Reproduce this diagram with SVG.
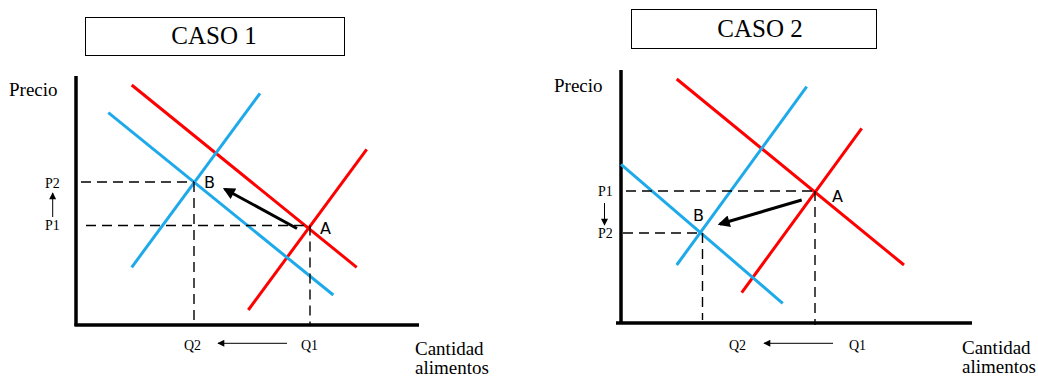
<svg xmlns="http://www.w3.org/2000/svg" width="1038" height="376" viewBox="0 0 1038 376">
<style>
.serif{font-family:"Liberation Serif","Times New Roman",serif;fill:#000}
.sans{font-family:"DejaVu Sans","Liberation Sans",sans-serif;fill:#000;font-size:16px}
.ax{stroke:#000;stroke-width:3.5;fill:none}
.red{stroke:#ff0000;stroke-width:3;fill:none}
.blue{stroke:#1eaaea;stroke-width:3;fill:none}
.dash{stroke:#000;stroke-width:1.4;stroke-dasharray:10,6;fill:none}
.thin{stroke:#000;stroke-width:1;fill:none}
.move{stroke:#000;stroke-width:3;fill:none}
.box{fill:#fff;stroke:#000;stroke-width:1}
</style>
<defs>
<marker id="bigh" viewBox="0 0 10 10" refX="8" refY="5" markerWidth="14" markerHeight="12" orient="auto" markerUnits="userSpaceOnUse"><path d="M0,0 L10,5 L0,10 z" fill="#000"/></marker>
<marker id="small" viewBox="0 0 10 10" refX="9" refY="5" markerWidth="8" markerHeight="7" orient="auto" markerUnits="userSpaceOnUse"><path d="M0,0 L10,5 L0,10 z" fill="#000"/></marker>
</defs>

<g id="caso1-title"><rect class="box" x="85.5" y="17.5" width="259" height="38"/><text class="serif" x="214" y="44" font-size="25" text-anchor="middle">CASO 1</text></g>
<g id="caso2-title"><rect class="box" x="631.5" y="9.5" width="245" height="39"/><text class="serif" x="760" y="37" font-size="25" text-anchor="middle">CASO 2</text></g>

<g id="caso1-axes">
<line class="ax" x1="76" y1="76" x2="76" y2="326"/>
<line class="ax" x1="74.5" y1="325" x2="419" y2="325"/>
<text class="serif" x="9" y="96" font-size="19">Precio</text>
<text class="serif" x="415" y="355" font-size="19">Cantidad</text>
<text class="serif" x="415" y="374" font-size="19">alimentos</text>
</g>
<g id="caso1-curves">
<line class="red" x1="131.7" y1="85" x2="356.7" y2="267.3"/>
<line class="red" x1="248.3" y1="310" x2="366.7" y2="149.3"/>
<line class="blue" x1="108.3" y1="112.7" x2="333.3" y2="295"/>
<line class="blue" x1="131.7" y1="267.3" x2="260" y2="93.3"/>
</g>
<g id="caso1-guides">
<line class="dash" x1="81" y1="182" x2="194" y2="182"/>
<line class="dash" x1="86" y1="225.5" x2="310" y2="225.5"/>
<line class="dash" x1="194" y1="182" x2="194" y2="325"/>
<line class="dash" x1="310" y1="225.5" x2="310" y2="325"/>
</g>
<g id="caso1-labels">
<text class="sans" x="204" y="188">B</text>
<text class="sans" x="320" y="234">A</text>
<text class="serif" x="45" y="188" font-size="14">P2</text>
<text class="serif" x="45" y="230" font-size="14">P1</text>
<text class="serif" x="184" y="350" font-size="14">Q2</text>
<text class="serif" x="301" y="350" font-size="14">Q1</text>
</g>
<g id="connectors">
<line class="move" x1="297" y1="228.5" x2="225" y2="189.2" marker-end="url(#bigh)"/>
<line class="thin" x1="52.7" y1="217" x2="52.7" y2="193" marker-end="url(#small)"/>
<line class="thin" x1="287" y1="343.3" x2="218" y2="343.3" marker-end="url(#small)"/>
<line class="move" x1="801.7" y1="200" x2="720" y2="224" marker-end="url(#bigh)"/>
<line class="thin" x1="604.5" y1="203" x2="604.5" y2="225" marker-end="url(#small)"/>
<line class="thin" x1="833" y1="343.3" x2="764" y2="343.3" marker-end="url(#small)"/>
</g>

<g id="caso2-axes">
<line class="ax" x1="621" y1="70" x2="621" y2="324"/>
<line class="ax" x1="616" y1="323" x2="972" y2="323"/>
<text class="serif" x="554" y="92" font-size="19">Precio</text>
<text class="serif" x="962" y="354" font-size="19">Cantidad</text>
<text class="serif" x="962" y="373" font-size="19">alimentos</text>
</g>
<g id="caso2-curves">
<line class="red" x1="676.7" y1="79" x2="904" y2="265"/>
<line class="red" x1="741.7" y1="292.7" x2="861.7" y2="128.3"/>
<line class="blue" x1="621" y1="164.3" x2="782.7" y2="303.3"/>
<line class="blue" x1="676.7" y1="265" x2="806.7" y2="86.7"/>
</g>
<g id="caso2-guides">
<line class="dash" x1="626" y1="191" x2="815" y2="191"/>
<line class="dash" x1="623" y1="233" x2="701.7" y2="233"/>
<line class="dash" x1="815" y1="191" x2="815" y2="325"/>
<line class="dash" x1="702.5" y1="233" x2="702.5" y2="320"/>
</g>
<g id="caso2-labels">
<text class="sans" x="832" y="202">A</text>
<text class="sans" x="693" y="221">B</text>
<text class="serif" x="598" y="196" font-size="14">P1</text>
<text class="serif" x="598" y="238" font-size="14">P2</text>
<text class="serif" x="729" y="350" font-size="14">Q2</text>
<text class="serif" x="849" y="350" font-size="14">Q1</text>
</g>
</svg>
